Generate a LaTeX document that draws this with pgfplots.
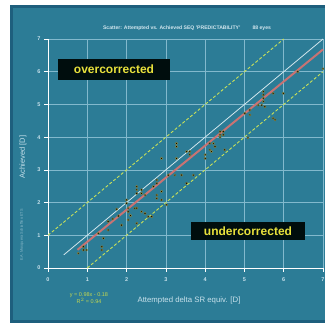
\documentclass[border=0pt]{standalone}
\usepackage{pgfplots}
\pgfplotsset{compat=1.18}
\usepackage{fontspec}
\setmainfont{Liberation Sans}
\definecolor{panel}{RGB}{44,124,150}
\definecolor{paneldark}{RGB}{30,95,125}
\definecolor{gridc}{RGB}{130,185,205}
\definecolor{dashc}{RGB}{200,225,90}
\definecolor{regc}{RGB}{200,115,115}
\definecolor{labc}{RGB}{200,225,235}
\definecolor{eqc}{RGB}{195,215,80}
\definecolor{boxtxt}{RGB}{232,225,60}
\begin{document}
\begin{tikzpicture}
\fill[white] (0,0) rectangle (325pt,327pt);
\fill[paneldark] (10pt,4pt) rectangle (325pt,322pt);
\fill[panel] (13pt,7pt) rectangle (325pt,319pt);
\begin{axis}[
  at={(48pt,59pt)}, anchor=south west,
  width=275pt, height=229pt, scale only axis,
  xmin=0, xmax=7, ymin=0, ymax=7,
  xtick={0,...,7}, ytick={0,...,7},
  axis x line*=bottom, axis y line*=left,
  axis line style={white, line width=0.9pt, -},
  grid=major, grid style={gridc, line width=0.6pt},
  tick align=outside, major tick length=4pt,
  tick style={white, line width=0.6pt},
  ticklabel style={font=\fontsize{5.5}{6}\selectfont\bfseries, text=labc},
  xticklabel style={yshift=-2pt},
  /pgf/number format/assume math mode=true,
  clip=false,
]
\addplot[gridc!35!white, line width=0.8pt] coordinates {(0.4,0.4) (7,7)};
\addplot[dashc, line width=0.9pt, dash pattern=on 3pt off 2pt] coordinates {(0,1) (6,7)};
\addplot[dashc, line width=0.9pt, dash pattern=on 3pt off 2pt] coordinates {(1,0) (7,6)};
\addplot[regc, line width=2pt] coordinates {(0.75,0.555) (7,6.68)};
\addplot[only marks, mark=*, mark size=1.2pt, mark options={fill=black, draw=yellow!55!black, line width=0.35pt}] table {
x y
0.77 0.45
0.90 0.55
0.98 0.55
0.90 0.65
1.37 0.65
1.37 0.55
1.41 0.91
1.28 1.06
1.53 1.16
1.53 1.42
1.65 1.50
1.75 1.80
1.79 1.59
1.87 1.31
2.00 2.08
2.00 1.98
2.04 1.83
2.04 1.72
2.04 1.47
2.10 1.60
2.26 2.39
2.26 2.28
2.26 1.83
2.26 1.37
2.26 2.49
2.38 2.39
2.38 2.28
2.47 2.23
2.21 1.83
2.38 1.72
2.47 1.67
2.55 1.57
2.64 1.57
2.77 2.23
2.77 2.13
2.89 2.08
3.02 1.93
2.68 2.49
2.77 2.69
2.77 2.59
2.89 2.34
2.89 3.35
3.06 2.84
3.23 2.84
3.40 2.84
3.53 2.59
3.27 3.81
3.27 3.71
3.27 3.35
3.53 3.56
3.61 3.56
3.61 3.46
3.70 2.84
4.00 3.46
4.00 3.35
4.12 3.61
4.16 3.56
4.12 3.81
4.21 3.81
4.25 3.71
4.50 3.61
4.38 4.17
4.46 4.17
4.38 4.07
4.46 4.07
4.38 4.00
5.01 4.73
5.14 4.83
5.14 4.68
5.09 3.98
5.35 4.98
5.44 4.98
5.52 4.93
5.48 5.39
5.48 5.29
5.48 5.19
5.48 5.09
5.73 5.34
5.99 5.34
5.73 4.58
5.78 4.53
6.36 6.00
7.00 6.09
};
\end{axis}
% texts
\node[text=labc!80!white, font=\fontsize{5.1}{6}\selectfont\bfseries] at (187pt,299pt) {Scatter: Attempted vs. Achieved SEQ 'PREDICTABILITY'\hspace{12pt}88 eyes};
\node[rotate=90, text=labc, font=\fontsize{7.5}{8}\selectfont] at (23pt,170pt) {Achieved [D]};
\node[rotate=90, text=labc!60!panel, font=\fontsize{3.8}{4}\selectfont] at (22pt,92pt) {E.A. Mosquera Schiaffino ETS};
\node[text=labc, font=\fontsize{7.8}{8}\selectfont] at (189pt,27pt) {Attempted delta SR equiv. [D]};
\node[text=eqc, font=\fontsize{5.5}{6}\selectfont, align=center] at (89pt,29pt) {y = 0.98x - 0.18\\[-0.5pt]R$^2$ = 0.94};
\node[fill=black!90!teal, text=boxtxt, font=\fontsize{12}{13}\selectfont\bfseries, inner sep=3.5pt, minimum width=112pt, minimum height=21pt] at (114pt,257.5pt) {overcorrected};
\node[fill=black!90!teal, text=boxtxt, font=\fontsize{12}{13}\selectfont\bfseries, inner sep=3pt, minimum width=114pt, minimum height=18pt] at (248pt,96pt) {undercorrected};
\pgfresetboundingbox
\useasboundingbox (0,0) rectangle (325pt,327pt);
\end{tikzpicture}
\end{document}
